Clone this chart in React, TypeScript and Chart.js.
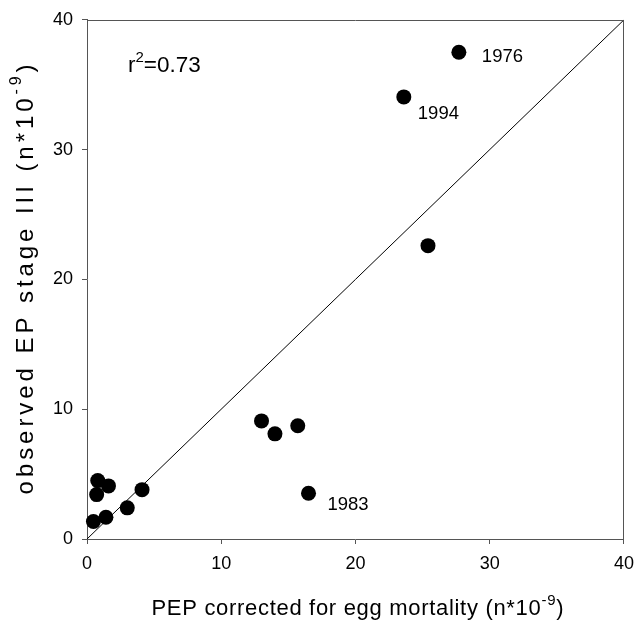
import React, { useEffect, useRef } from "react";
import { Chart, registerables } from "chart.js";

Chart.register(...registerables);

const pepCorrected = [0.48, 1.41, 3.0, 4.1, 0.72, 0.8, 1.6, 13.0, 14.0, 15.7, 16.5, 25.4, 27.7, 23.6];
const observedEP = [1.35, 1.68, 2.4, 3.8, 3.42, 4.5, 4.09, 9.1, 8.1, 8.73, 3.52, 22.6, 37.5, 34.06];
const yearLabels = ["", "", "", "", "", "", "", "", "", "", "1983", "", "1976", "1994"];
const lineX = [0, 40];
const lineY = [0, 40];
const axisMin = 0;
const axisMax = 40;
const tickStep = 10;
const rSquared = "0.73";
const xTitle = "PEP corrected for egg mortality (n*10";
const yTitle = "observed EP stage III (n*10";
const titleExp = "-9";

const FONT = "'Liberation Sans', Arial, sans-serif";

type Part = { text: string; sup?: boolean };

function drawRich(
  ctx: CanvasRenderingContext2D,
  parts: Part[],
  x: number,
  y: number,
  size: number,
  supSize: number,
  align: "left" | "center",
  targetWidth?: number
) {
  const c: any = ctx;
  c.letterSpacing = "0px";
  const measure = (p: Part) => {
    ctx.font = `${p.sup ? supSize : size}px ${FONT}`;
    return ctx.measureText(p.text).width;
  };
  const natural = parts.reduce((s, p) => s + measure(p), 0);
  const nChars = parts.reduce((s, p) => s + p.text.length, 0);
  let spacing = 0;
  if (targetWidth && nChars > 1) spacing = (targetWidth - natural) / (nChars - 1);
  const total = natural + spacing * (nChars - 1);
  let cx = align === "center" ? x - total / 2 : x;
  ctx.textBaseline = "middle";
  ctx.textAlign = "left";
  c.letterSpacing = `${spacing}px`;
  for (const p of parts) {
    ctx.font = `${p.sup ? supSize : size}px ${FONT}`;
    ctx.fillText(p.text, cx, p.sup ? y - size * 0.38 : y);
    cx += ctx.measureText(p.text).width;
  }
  c.letterSpacing = "0px";
}

const decorPlugin = {
  id: "decor",
  afterDraw(chart: any) {
    const { ctx, chartArea } = chart;
    const xs = chart.scales.x;
    const ys = chart.scales.y;
    ctx.save();
    // frame top & right
    ctx.strokeStyle = "#555";
    ctx.lineWidth = 1;
    ctx.beginPath();
    ctx.moveTo(Math.round(chartArea.left) + 0.5, Math.round(chartArea.top) + 0.5);
    ctx.lineTo(Math.round(chartArea.right) - 0.5, Math.round(chartArea.top) + 0.5);
    ctx.lineTo(Math.round(chartArea.right) - 0.5, Math.round(chartArea.bottom) + 0.5);
    ctx.stroke();

    ctx.fillStyle = "#000";
    // year labels
    ctx.font = `18.5px ${FONT}`;
    ctx.textBaseline = "middle";
    ctx.textAlign = "left";
    const offs: Record<string, [number, number]> = { "1976": [23, 5], "1994": [14, 17], "1983": [19, 12] };
    yearLabels.forEach((lab, i) => {
      if (!lab) return;
      const px = xs.getPixelForValue(pepCorrected[i]);
      const py = ys.getPixelForValue(observedEP[i]);
      const o = offs[lab] || [15, 8];
      ctx.fillText(lab, px + o[0], py + o[1]);
    });

    // r^2
    drawRich(ctx, [{ text: "r" }, { text: "2", sup: true }, { text: "=" + rSquared }], 128, 66, 22.5, 15, "left");

    // x title
    const cxm = (chartArea.left + chartArea.right) / 2 + 2;
    drawRich(ctx, [{ text: xTitle }, { text: titleExp, sup: true }, { text: ")" }], cxm, 609, 22, 15, "center", 412);

    // y title
    const cym = (chartArea.top + chartArea.bottom) / 2;
    ctx.save();
    ctx.translate(26, cym);
    ctx.rotate(-Math.PI / 2);
    drawRich(ctx, [{ text: yTitle }, { text: titleExp, sup: true }, { text: ")" }], 0, 0, 24, 16, "center", 430);
    ctx.restore();

    ctx.restore();
  },
};

export default function App() {
  const ref = useRef<HTMLCanvasElement | null>(null);

  useEffect(() => {
    if (!ref.current) return;
    const chart = new Chart(ref.current, {
      type: "scatter",
      data: {
        datasets: [
          {
            type: "line",
            data: lineX.map((x, i) => ({ x, y: lineY[i] })),
            borderColor: "#000",
            borderWidth: 1,
            pointRadius: 0,
            fill: false,
          } as any,
          {
            data: pepCorrected.map((x, i) => ({ x, y: observedEP[i] })),
            backgroundColor: "#000",
            borderWidth: 0,
            pointRadius: 7.5,
            pointHoverRadius: 7.5,
            clip: false,
          } as any,
        ],
      },
      options: {
        animation: false,
        responsive: false,
        events: [],
        layout: { padding: { left: 0, right: 12, top: 18, bottom: 0 } },
        plugins: { legend: { display: false }, tooltip: { enabled: false }, title: { display: false } },
        scales: {
          x: {
            type: "linear",
            min: axisMin,
            max: axisMax,
            ticks: { stepSize: tickStep, color: "#000", font: { family: FONT, size: 18 }, padding: 9 },
            grid: { drawOnChartArea: false, drawTicks: true, tickLength: 5, tickColor: "#555" },
            border: { color: "#555", width: 1 },
            afterFit: (s: any) => {
              s.height = 85;
            },
          },
          y: {
            type: "linear",
            min: axisMin,
            max: axisMax,
            ticks: { stepSize: tickStep, color: "#000", font: { family: FONT, size: 18 }, padding: 9 },
            grid: { drawOnChartArea: false, drawTicks: true, tickLength: 5, tickColor: "#555" },
            border: { color: "#555", width: 1 },
            afterFit: (s: any) => {
              s.width = 87;
            },
          },
        },
      },
      plugins: [decorPlugin],
    });
    return () => chart.destroy();
  }, []);

  return (
    <div style={{ position: "fixed", left: 0, top: 0, width: 643, height: 624, background: "#fff" }}>
      <canvas ref={ref} width={643} height={624} />
    </div>
  );
}
